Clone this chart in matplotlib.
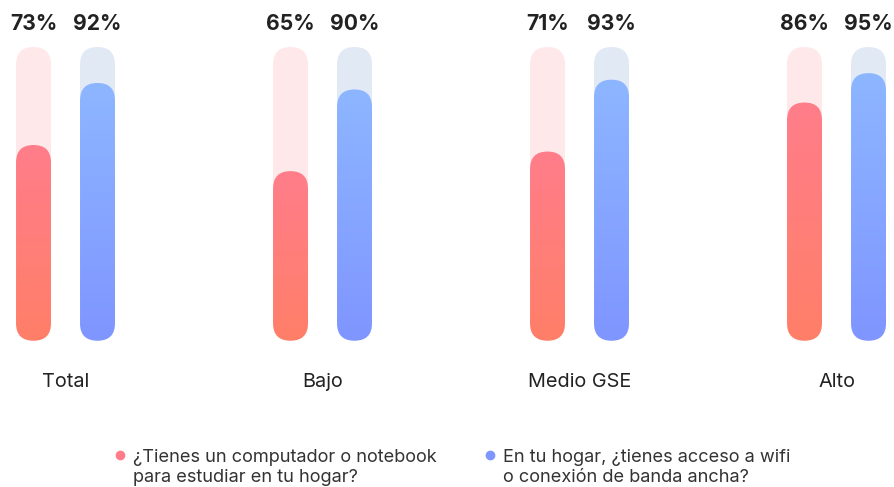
import numpy as np
import matplotlib
matplotlib.use("Agg")
import matplotlib.pyplot as plt
from matplotlib.patches import FancyBboxPatch
from matplotlib.lines import Line2D

# Data
categories = ["Total", "Bajo", "Medio GSE", "Alto"]
computador = [73, 65, 71, 86]
wifi = [92, 90, 93, 95]
legend_labels = ["¿Tienes un computador o notebook\npara estudiar en tu hogar?",
                 "En tu hogar, ¿tienes acceso a wifi\no conexión de banda ancha?"]

plt.rcParams['font.family'] = ['Inter', 'DejaVu Sans']

fig = plt.figure(figsize=(8.94, 4.87), dpi=100)
ax = fig.add_axes([0, 0.3004, 1, 0.6031])
base, top = 13.1, 103
ax.set_xlim(-0.2549, 3.2237)
ax.set_ylim(base, top)
ax.axis('off')

offset = 0.1245
width = 0.136
fig.canvas.draw()
# pixels per data unit in x and y, used for round caps
p0 = ax.transData.transform((0, 0))
p1 = ax.transData.transform((1, 1))
aspect = (p1[0] - p0[0]) / (p1[1] - p0[1])


def capsule(x, h, color=None):
    patch = FancyBboxPatch((x - width / 2, base), width, h - base,
                           boxstyle=f"round,pad=0,rounding_size={width / 2}",
                           mutation_aspect=aspect, linewidth=0,
                           facecolor=color if color else 'none')
    ax.add_patch(patch)
    return patch


def gradient_bar(x, v, c_top, c_bot):
    patch = capsule(x, v)
    grad = np.linspace(0, 1, 256)[:, None]
    c_top = np.array(matplotlib.colors.to_rgb(c_top))
    c_bot = np.array(matplotlib.colors.to_rgb(c_bot))
    img = c_bot[None, None, :] * (1 - grad[:, :, None]) + c_top[None, None, :] * grad[:, :, None]
    im = ax.imshow(img, extent=(x - width / 2, x + width / 2, base, v),
                   origin='lower', aspect='auto', zorder=2)
    im.set_clip_path(patch)


for i, cat in enumerate(categories):
    xr = i - offset
    xb = i + offset
    capsule(xr, top, '#FFE8EA')
    capsule(xb, top, '#E1E9F5')
    gradient_bar(xr, computador[i], '#FF7D8A', '#FF7F68')
    gradient_bar(xb, wifi[i], '#8DB6FF', '#7F95FF')
    ax.text(xr, top + 7.0, f"{computador[i]}%", ha='center', va='center',
            fontsize=15.2, fontweight='bold', color='#222222', clip_on=False)
    ax.text(xb, top + 7.0, f"{wifi[i]}%", ha='center', va='center',
            fontsize=15.2, fontweight='bold', color='#222222', clip_on=False)
    ax.text(i, base - 12.7, cat, ha='center', va='center',
            fontsize=14.3, color='#222222', clip_on=False)

ax.set_xlim(-0.2549, 3.2237)
ax.set_ylim(base, top)

# legend
leg_colors = ['#FF7D8A', '#7F95FF']
leg_x = [120 / 894, 490 / 894]
for c, lx, lab in zip(leg_colors, leg_x, legend_labels):
    fig.add_artist(Line2D([lx], [1 - 455 / 487], marker='o', markersize=6,
                          color=c, linestyle='none', transform=fig.transFigure))
    fig.text(lx + 13 / 894, 1 - 449 / 487, lab, ha='left', va='top',
             fontsize=13.1, color='#333333', linespacing=1.22)

fig.savefig("out.png", dpi=100)
